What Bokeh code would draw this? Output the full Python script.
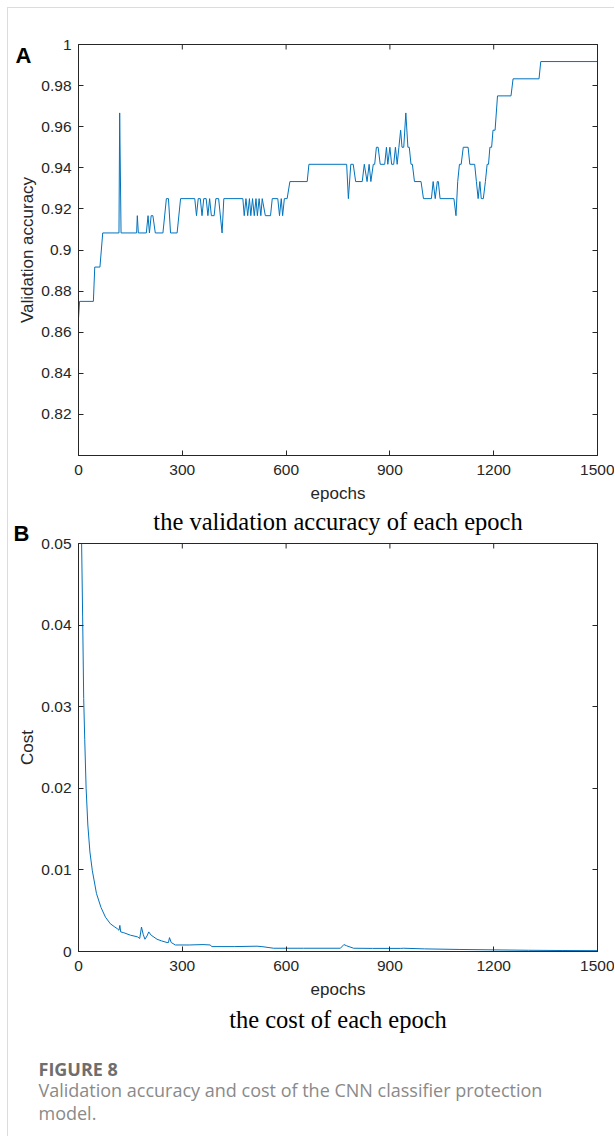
import math
from bokeh.plotting import figure
from bokeh.models import LinearAxis, FixedTicker, Range1d, Title
from bokeh.layouts import column
from bokeh.embed import file_html
from bokeh.resources import INLINE

# ---------------- data ----------------
x_ticks = [0, 300, 600, 900, 1200, 1500]

acc_epochs = [0, 3, 43, 47, 62, 70, 117, 119, 123, 168, 170, 173, 196, 201, 205, 210, 215, 222,
              244, 254, 260, 266, 285, 295, 336, 341, 346, 352, 357, 362, 369, 374, 379, 384,
              392, 397, 405, 415, 420, 475, 479, 484, 489, 494, 498, 503, 508, 513, 517, 522,
              527, 531, 540, 555, 560, 576, 581, 586, 590, 595, 603, 611, 661, 666, 775, 780,
              787, 794, 801, 820, 826, 834, 840, 845, 852, 856, 861, 866, 872, 885, 890, 894,
              900, 905, 911, 916, 921, 926, 931, 935, 940, 946, 952, 956, 961, 965, 971, 990,
              997, 1020, 1025, 1031, 1037, 1040, 1045, 1085, 1091, 1096, 1101, 1106, 1112, 1126,
              1131, 1145, 1150, 1155, 1160, 1164, 1170, 1176, 1181, 1185, 1189, 1194, 1198, 1204,
              1211, 1250, 1256, 1331, 1336, 1500]
acc_values = [0.8667, 0.875, 0.875, 0.8917, 0.8917, 0.9083, 0.9083, 0.9667, 0.9083, 0.9083, 0.9167, 0.9083, 0.9083, 0.9167, 0.9083, 0.9167, 0.9167, 0.9083,
              0.9083, 0.925, 0.925, 0.9083, 0.9083, 0.925, 0.925, 0.9167, 0.925, 0.925, 0.9167, 0.925, 0.925, 0.9167, 0.925, 0.9167,
              0.9167, 0.925, 0.925, 0.9083, 0.925, 0.925, 0.9167, 0.925, 0.9167, 0.925, 0.9167, 0.925, 0.9167, 0.925, 0.9167, 0.925,
              0.9167, 0.925, 0.9167, 0.9167, 0.925, 0.925, 0.9167, 0.925, 0.9167, 0.925, 0.925, 0.9333, 0.9333, 0.9417, 0.9417, 0.925,
              0.9417, 0.9417, 0.9333, 0.9333, 0.9417, 0.9333, 0.9417, 0.9333, 0.9417, 0.9417, 0.95, 0.95, 0.9417, 0.9417, 0.95, 0.9417,
              0.95, 0.9417, 0.9417, 0.95, 0.9417, 0.95, 0.9583, 0.95, 0.95, 0.9667, 0.95, 0.95, 0.9417, 0.9417, 0.9333, 0.9333,
              0.925, 0.925, 0.9333, 0.925, 0.9333, 0.9333, 0.925, 0.925, 0.9167, 0.9333, 0.9417, 0.9417, 0.95, 0.95,
              0.9417, 0.9417, 0.9333, 0.925, 0.9333, 0.925, 0.925, 0.9333, 0.9417, 0.9417, 0.95, 0.95, 0.9583, 0.9583,
              0.975, 0.975, 0.9833, 0.9833, 0.9917, 0.9917]
acc_ticks = [0.82, 0.84, 0.86, 0.88, 0.9, 0.92, 0.94, 0.96, 0.98, 1.0]
acc_tick_labels = ["0.82", "0.84", "0.86", "0.88", "0.9", "0.92", "0.94", "0.96", "0.98", "1"]

cost_epochs = [3, 9, 12, 15, 18, 22, 27, 33, 40, 52, 65, 78, 92, 105, 112, 117, 119.5, 122, 131,
               150, 170, 177, 182, 187, 192, 198, 203, 210, 227, 240, 256, 260, 263, 268, 280,
               320, 360, 381, 385, 450, 516, 530, 564, 650, 757, 767, 775, 795, 850, 930, 940,
               1000, 1100, 1200, 1300, 1400, 1500]
cost_values = [0.07, 0.050, 0.041, 0.031, 0.026, 0.020, 0.0155, 0.0122, 0.0099, 0.0071, 0.0054, 0.0042,
               0.0034, 0.0030, 0.0028, 0.0026, 0.0032, 0.0024, 0.0023, 0.0020, 0.0018, 0.0016, 0.0030,
               0.0021, 0.0015, 0.0019, 0.0024, 0.0020, 0.0015, 0.0013, 0.0011, 0.0011, 0.0017, 0.0011,
               0.0008, 0.0008, 0.00085, 0.0008, 0.0006, 0.0006, 0.00065, 0.0006, 0.0004, 0.0004, 0.0004,
               0.00085, 0.0007, 0.0004, 0.00038, 0.00038, 0.0004, 0.00032, 0.00025, 0.0002, 0.00015,
               0.00012, 0.0001]
cost_ticks = [0, 0.01, 0.02, 0.03, 0.04, 0.05]
cost_tick_labels = ["0", "0.01", "0.02", "0.03", "0.04", "0.05"]

title_a = "the validation accuracy of each epoch"
title_b = "the cost of each epoch"
caption_head = "FIGURE 8"
caption_lines = ["Validation accuracy and cost of the CNN classifier protection", "model."]

LINE = "#0072BD"
AX = "#262626"
SANS = "Liberation Sans"
SERIF = "Liberation Serif"
CAP_FONT = "Open Sans"


def style_axis(ax, ticks, labels=None, show_labels=True):
    ax.ticker = FixedTicker(ticks=ticks)
    ax.major_tick_in = 5
    ax.major_tick_out = 0
    ax.minor_tick_line_color = None
    ax.axis_line_color = AX
    ax.major_tick_line_color = AX
    ax.major_label_text_font = SANS
    ax.major_label_text_font_size = "15.5px"
    ax.major_label_text_color = AX
    ax.axis_label_text_font = SANS
    ax.axis_label_text_font_size = "17px"
    ax.axis_label_text_font_style = "normal"
    ax.axis_label_text_color = AX
    if labels is not None:
        ax.major_label_overrides = {t: l for t, l in zip(ticks, labels)}
    if not show_labels:
        ax.major_label_overrides = {t: "" for t in ticks}
        ax.major_label_standoff = 0


def make_fig(height, ymin, ymax, yticks, ylabels, ylab, top_border, bottom_border):
    p = figure(width=606, height=height, output_backend="svg", toolbar_location=None,
               x_range=Range1d(0, 1500), y_range=Range1d(ymin, ymax),
               min_border_left=70, min_border_right=17,
               min_border_top=top_border, min_border_bottom=bottom_border)
    p.xgrid.visible = False
    p.ygrid.visible = False
    p.outline_line_color = AX
    p.outline_line_width = 1
    p.background_fill_color = "white"
    p.border_fill_color = "white"
    style_axis(p.xaxis[0], x_ticks)
    p.xaxis[0].major_label_standoff = 9
    p.xaxis[0].axis_label = "epochs"
    p.xaxis[0].axis_label_standoff = 6
    style_axis(p.yaxis[0], yticks, ylabels)
    p.yaxis[0].major_label_standoff = 7
    p.yaxis[0].axis_label = ylab
    p.yaxis[0].axis_label_standoff = 1
    right = LinearAxis()
    style_axis(right, yticks, show_labels=False)
    p.add_layout(right, "right")
    # inward tick marks along the top edge (half of each dash is clipped by the frame)
    p.scatter(x=x_ticks, y=[ymax] * len(x_ticks), marker="dash", size=10, angle=math.pi / 2,
              line_color=AX, line_width=1)
    return p


def title(text, font, size, style, align, valign, standoff, offset=0, color="black"):
    return Title(text=text, align=align, vertical_align=valign, standoff=standoff, offset=offset,
                 text_font=font, text_font_size=size, text_font_style=style, text_color=color)


# ---------------- panel A ----------------
pA = make_fig(499, 0.80, 1.0, acc_ticks, acc_tick_labels, "Validation accuracy", 36, 52)
pA.line(acc_epochs, acc_values, line_color=LINE, line_width=1)
a_pos = 0.99465
letter_a = LinearAxis(ticker=FixedTicker(ticks=[a_pos]), major_label_overrides={a_pos: "A"},
                      axis_line_color=None, major_tick_line_color=None,
                      minor_tick_line_color=None, major_tick_in=0, major_tick_out=0,
                      major_label_standoff=-16, major_label_text_font=SANS,
                      major_label_text_font_size="22px", major_label_text_font_style="bold",
                      major_label_text_color="black")
pA.add_layout(letter_a, "left")

# ---------------- panel B ----------------
pB = make_fig(533, 0.0, 0.05, cost_ticks, cost_tick_labels, "Cost", 36, 89)
pB.line(cost_epochs, cost_values, line_color=LINE, line_width=1)
pB.add_layout(title("B", SANS, "22px", "bold", "left", "middle", -7, offset=-65), "above")
pB.add_layout(title(title_a, SERIF, "24.5px", "normal", "center", "middle", -24), "above")
pB.add_layout(title(title_b, SERIF, "24.5px", "normal", "center", "middle", 6), "below")

# ---------------- caption ----------------
pC = figure(width=606, height=96, output_backend="svg", toolbar_location=None,
            x_axis_type=None, y_axis_type=None, x_range=Range1d(0, 1), y_range=Range1d(0, 1),
            min_border_left=70, min_border_right=17, min_border_top=38, min_border_bottom=57,
            outline_line_color=None)
pC.xgrid.visible = False
pC.ygrid.visible = False
pC.add_layout(title(caption_head, CAP_FONT, "18px", "bold", "left", "middle", -7,
                    offset=-40, color="#6e6e6e"), "above")
pC.add_layout(title(caption_lines[0], CAP_FONT, "18px", "normal", "left", "middle", -5,
                    offset=-40, color="#8a8a8a"), "below")
pC.add_layout(title(caption_lines[1], CAP_FONT, "18px", "normal", "left", "middle", -2,
                    offset=-40, color="#8a8a8a"), "below")

layout = column(pA, pB, pC, styles={"border-left": "1px solid #dcdcdc",
                                    "border-top": "1px solid #dcdcdc",
                                    "margin-left": "7px", "margin-top": "7px"})

open("out.html", "w").write(file_html(layout, INLINE))
